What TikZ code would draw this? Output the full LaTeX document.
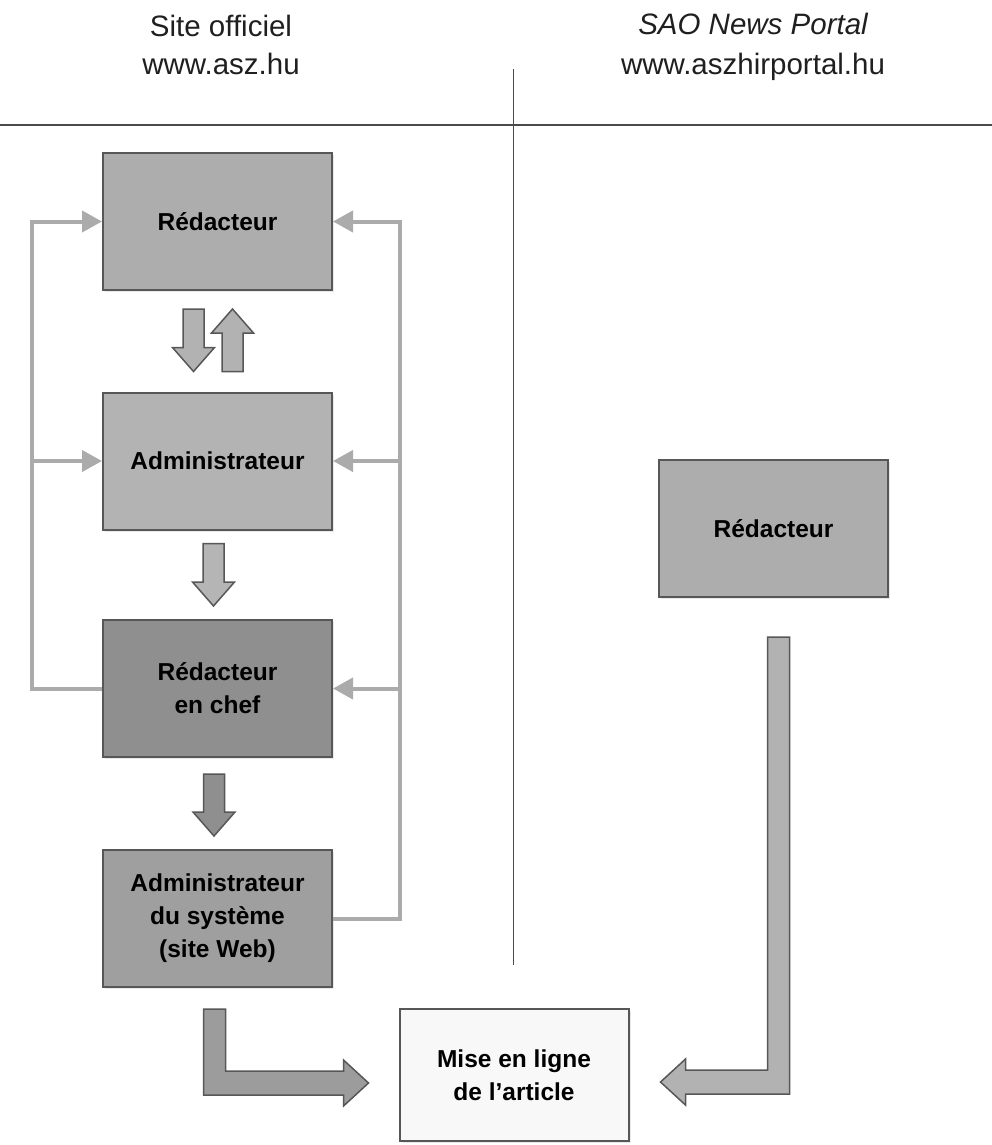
\documentclass[tikz,border=0pt]{standalone}
\usepackage{fontspec}
\setmainfont{Liberation Sans}
\usetikzlibrary{calc,arrows.meta,shadows}
\definecolor{edge}{HTML}{575757}
\definecolor{rule}{HTML}{4A4A4A}
\definecolor{fbgray}{HTML}{ABABAB}
\definecolor{boxa}{HTML}{ADADAD}
\definecolor{boxb}{HTML}{B3B3B3}
\definecolor{boxc}{HTML}{8F8F8F}
\definecolor{boxd}{HTML}{9F9F9F}
\definecolor{boxe}{HTML}{F8F8F8}
\definecolor{arra}{HTML}{B2B2B2}
\definecolor{arrb}{HTML}{B5B5B5}
\definecolor{arrc}{HTML}{8F8F8F}
\definecolor{arrd}{HTML}{9C9C9C}
\begin{document}
\begin{tikzpicture}[x=1pt,y=-1pt]
\tikzstyle{box}=[draw=edge,line width=2pt,minimum width=229pt,minimum height=137pt,align=center,
  font={\bfseries\fontsize{24.5}{33}\selectfont},drop shadow={opacity=0.18,shadow xshift=2pt,shadow yshift=-2pt}]
\tikzstyle{fb}=[draw=fbgray,line width=4pt,-{Triangle[length=20pt,width=21pt]}]
\tikzstyle{barrow}=[draw=edge,line width=1.5pt,line join=miter]
\tikzstyle{head}=[font={\fontsize{29.5}{35}\selectfont},text=black!88,anchor=base]
\useasboundingbox (0,0) rectangle (992,1145);

% headings and separators
\node[head] (h1) at (221,37) {Site officiel};
\node[head] (h2) at (221,75) {www.asz.hu};
\node[head] (h3) at (753,35) {\itshape SAO News Portal};
\node[head] (h4) at (753,75) {www.aszhirportal.hu};
\coordinate (hl) at (0,125);
\coordinate (hr) at (992,125);
\coordinate (vt) at (513.5,69);
\coordinate (vb) at (513.5,965);
\draw[draw=rule,line width=2.2pt] (hl) -- (hr);
\draw[draw=rule,line width=1.5pt] (vt) -- (vb);

% boxes
\node[box,fill=boxa] (r1) at (217.5,221.5) {Rédacteur};
\node[box,fill=boxb] (a2) at (217.5,461) {Administrateur};
\node[box,fill=boxc] (r3) at (217.5,688.5) {Rédacteur\\en chef};
\node[box,fill=boxd] (a4) at (217.5,918.5) {Administrateur\\du système\\(site Web)};
\node[box,fill=boxa] (s1) at (773.5,528.5) {Rédacteur};
\node[box,fill=boxe,minimum height=132pt] (m5) at (514,1075) {Mise en ligne\\de l’article};

% feedback lines
\coordinate (lt) at (32,221.5);
\coordinate (rt) at (400,221.5);
\draw[fb] (r3.west) -| (lt) -- (r1.west);
\draw[fb] (lt |- a2.west) -- (a2.west);
\draw[fb] (a4.east) -| (rt) -- (r1.east);
\foreach \n in {a2,r3}
  \draw[fb] (rt |- \n.east) -- (\n.east);

% block arrows
\coordinate (d1s) at ($(r1.south)+(-24,18)$);
\coordinate (d1t) at ($(a2.north)+(-24,-20)$);
\coordinate (u1s) at ($(a2.north)+(15,-20)$);
\coordinate (u1t) at ($(r1.south)+(15,18)$);
\coordinate (d2s) at ($(a2.south)+(-4,13)$);
\coordinate (d2t) at ($(r3.north)+(-4,-13)$);
\coordinate (d3s) at ($(r3.south)+(-3.5,16)$);
\coordinate (d3t) at ($(a4.north)+(-3.5,-13)$);
\foreach \s/\t/\c in {d1s/d1t/arra,u1s/u1t/arra,d2s/d2t/arrb,d3s/d3t/arrc}{
  \coordinate (bb) at ($(\t)!24pt!(\s)$);
  \filldraw[barrow,fill=\c] ($(\s)!10.5pt!90:(\t)$) -- ($(bb)!10.5pt!90:(\t)$) -- ($(bb)!21pt!90:(\t)$)
    -- (\t) -- ($(bb)!21pt!-90:(\t)$) -- ($(bb)!10.5pt!-90:(\t)$) -- ($(\s)!10.5pt!-90:(\t)$) -- cycle;
}

% bent arrows into the last box
\coordinate (bls) at ($(a4.south)+(-3,21)$);
\coordinate (blt) at ($(m5.west)+(-30,8)$);
\coordinate (brs) at ($(s1.south)+(5,39)$);
\coordinate (brt) at ($(m5.east)+(31,7)$);
\filldraw[barrow,fill=arrd] ($(bls)+(-11,0)$) |- ($(blt)+(-25,12)$) -- ($(blt)+(-25,23)$) -- (blt)
  -- ($(blt)+(-25,-23)$) -- ($(blt)+(-25,-12)$) -| ($(bls)+(11,0)$) -- cycle;
\filldraw[barrow,fill=arra] ($(brs)+(11,0)$) |- ($(brt)+(25,12)$) -- ($(brt)+(25,23)$) -- (brt)
  -- ($(brt)+(25,-23)$) -- ($(brt)+(25,-12)$) -| ($(brs)+(-11,0)$) -- cycle;

\end{tikzpicture}
\end{document}
